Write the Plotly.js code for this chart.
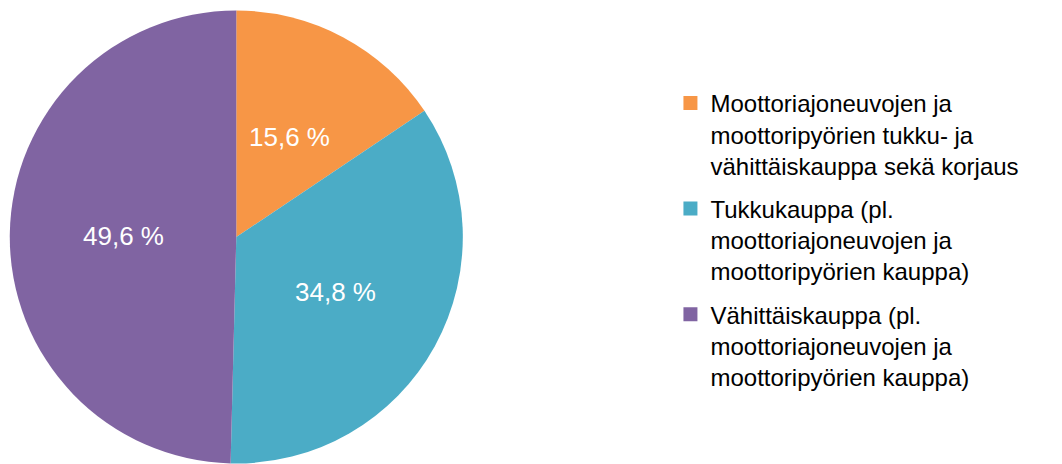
<!DOCTYPE html>
<html>
<head>
<meta charset="utf-8">
<script src="https://cdn.plot.ly/plotly-3.0.1.min.js"></script>
<style>
html,body{margin:0;padding:0;background:#fff;}
#chart{width:1062px;height:464px;}
</style>
</head>
<body>
<div id="chart"></div>
<script>
const categories = [
  "Moottoriajoneuvojen ja<br>moottoripyörien tukku- ja<br>vähittäiskauppa sekä korjaus",
  "Tukkukauppa (pl.<br>moottoriajoneuvojen ja<br>moottoripyörien kauppa)",
  "Vähittäiskauppa (pl.<br>moottoriajoneuvojen ja<br>moottoripyörien kauppa)"
];
const shares = [15.6, 34.8, 49.6];
const colors = ["#F79646", "#4BACC6", "#8064A2"];
const shareLabels = shares.map(v => v.toFixed(1).replace('.', ',') + ' %');

const FONT = 'Liberation Sans, Arial, sans-serif';
const pieDomain = {x: [0.0092, 0.4358], y: [0.001, 0.9774]};

const pie = {
  type: 'pie',
  labels: categories,
  values: shares,
  textinfo: 'none',
  marker: {colors: colors, line: {width: 0}},
  sort: false,
  direction: 'clockwise',
  rotation: 0,
  hoverinfo: 'none',
  showlegend: false,
  domain: pieDomain
};

// legend entries (one per category, separate groups so a gap can be set)
const legendTraces = categories.map((c, i) => ({
  type: 'scatter',
  mode: 'markers',
  x: [null], y: [null],
  name: c,
  legendgroup: 'g' + i,
  showlegend: true,
  marker: {symbol: 'square', size: 14, color: colors[i], line: {width: 0}},
  hoverinfo: 'none'
}));

// percentage labels placed at half radius, at the middle angle of each slice
const total = shares.reduce((a, b) => a + b, 0);
let cum = 0;
const annotations = shares.map((v, i) => {
  const mid = (cum + v / 2) / total * 2 * Math.PI;
  cum += v;
  return {
    xref: 'x', yref: 'y',
    x: 0.5 * Math.sin(mid), y: 0.5 * Math.cos(mid),
    text: shareLabels[i], showarrow: false,
    xanchor: 'center', yanchor: 'middle',
    font: {family: FONT, size: 26, color: '#ffffff'}
  };
});

const layout = {
  width: 1062,
  height: 464,
  margin: {l: 0, r: 0, t: 0, b: 0},
  paper_bgcolor: '#ffffff',
  plot_bgcolor: 'rgba(0,0,0,0)',
  showlegend: true,
  xaxis: {domain: pieDomain.x, range: [-1, 1], visible: false, fixedrange: true},
  yaxis: {domain: pieDomain.y, range: [-1, 1], visible: false, fixedrange: true},
  annotations: annotations,
  legend: {
    x: 0.6313, xanchor: 'left',
    y: 0.8257, yanchor: 'top',
    valign: 'top',
    traceorder: 'grouped',
    tracegroupgap: 9,
    font: {family: FONT, size: 24, color: '#000000'},
    bgcolor: 'rgba(0,0,0,0)'
  },
  font: {family: FONT}
};

Plotly.newPlot('chart', [pie].concat(legendTraces), layout, {displayModeBar: false, staticPlot: true});
</script>
</body>
</html>
